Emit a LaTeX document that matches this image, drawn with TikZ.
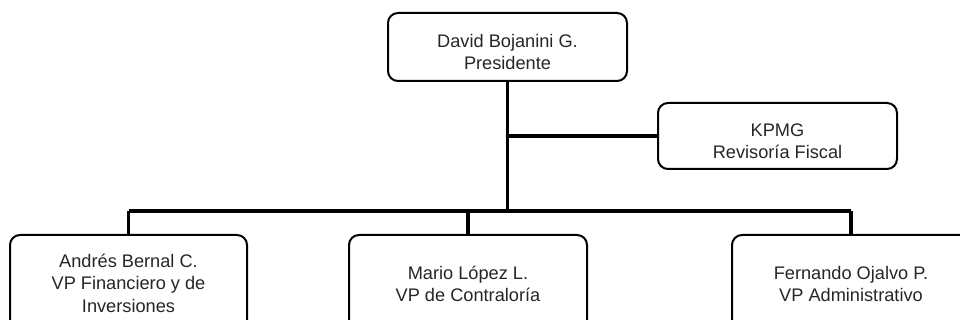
\documentclass[tikz,border=0pt]{standalone}
\usepackage{fontspec}
\setmainfont{Liberation Sans}
\begin{document}
\begin{tikzpicture}[x=1pt,y=-1pt,
  box/.style={draw=black, line width=2pt, rounded corners=10pt, fill=white, inner sep=0pt},
  label text/.style={inner sep=0pt, align=center, text=black!85, font=\fontsize{18.2}{22.5}\selectfont},
  link/.style={line width=3.3pt, black}]
\clip (0,0) rectangle (960,320);
\useasboundingbox (0,0) rectangle (960,320);
\node[box, minimum width=239pt, minimum height=68pt] (top) at (507.5,47) {};
\node[label text] (topt) at (507.5,52) {David Bojanini G.\\Presidente};
\node[box, minimum width=239pt, minimum height=66pt] (kpmg) at (777.5,136) {};
\node[label text] (kpmgt) at (777.5,141) {KPMG\\Revisoría Fiscal};
\node[box, minimum width=237pt, minimum height=98pt] (left) at (128.5,284) {};
\node[label text] (leftt) at (128.5,283) {Andrés Bernal C.\\VP Financiero y de\\Inversiones};
\node[box, minimum width=238pt, minimum height=98pt] (mid) at (468,284) {};
\node[label text] (midt) at (468,284) {Mario López L.\\VP de Contraloría};
\node[box, minimum width=238pt, minimum height=98pt] (right) at (851,284) {};
\node[label text] (rightt) at (851,284) {Fernando Ojalvo P.\\VP Administrativo};
\coordinate (bus) at (0,211);
\draw[link] (top.south) -- (top.south |- bus);
\draw[link] (kpmg.west) -- (kpmg.west -| top.south);
\draw[link] (left.north |- bus) -- (right.north |- bus);
\draw[link] (left.north) -- (left.north |- bus);
\draw[link] (mid.north) -- (mid.north |- bus);
\draw[link] (right.north) -- (right.north |- bus);
\end{tikzpicture}
\end{document}
